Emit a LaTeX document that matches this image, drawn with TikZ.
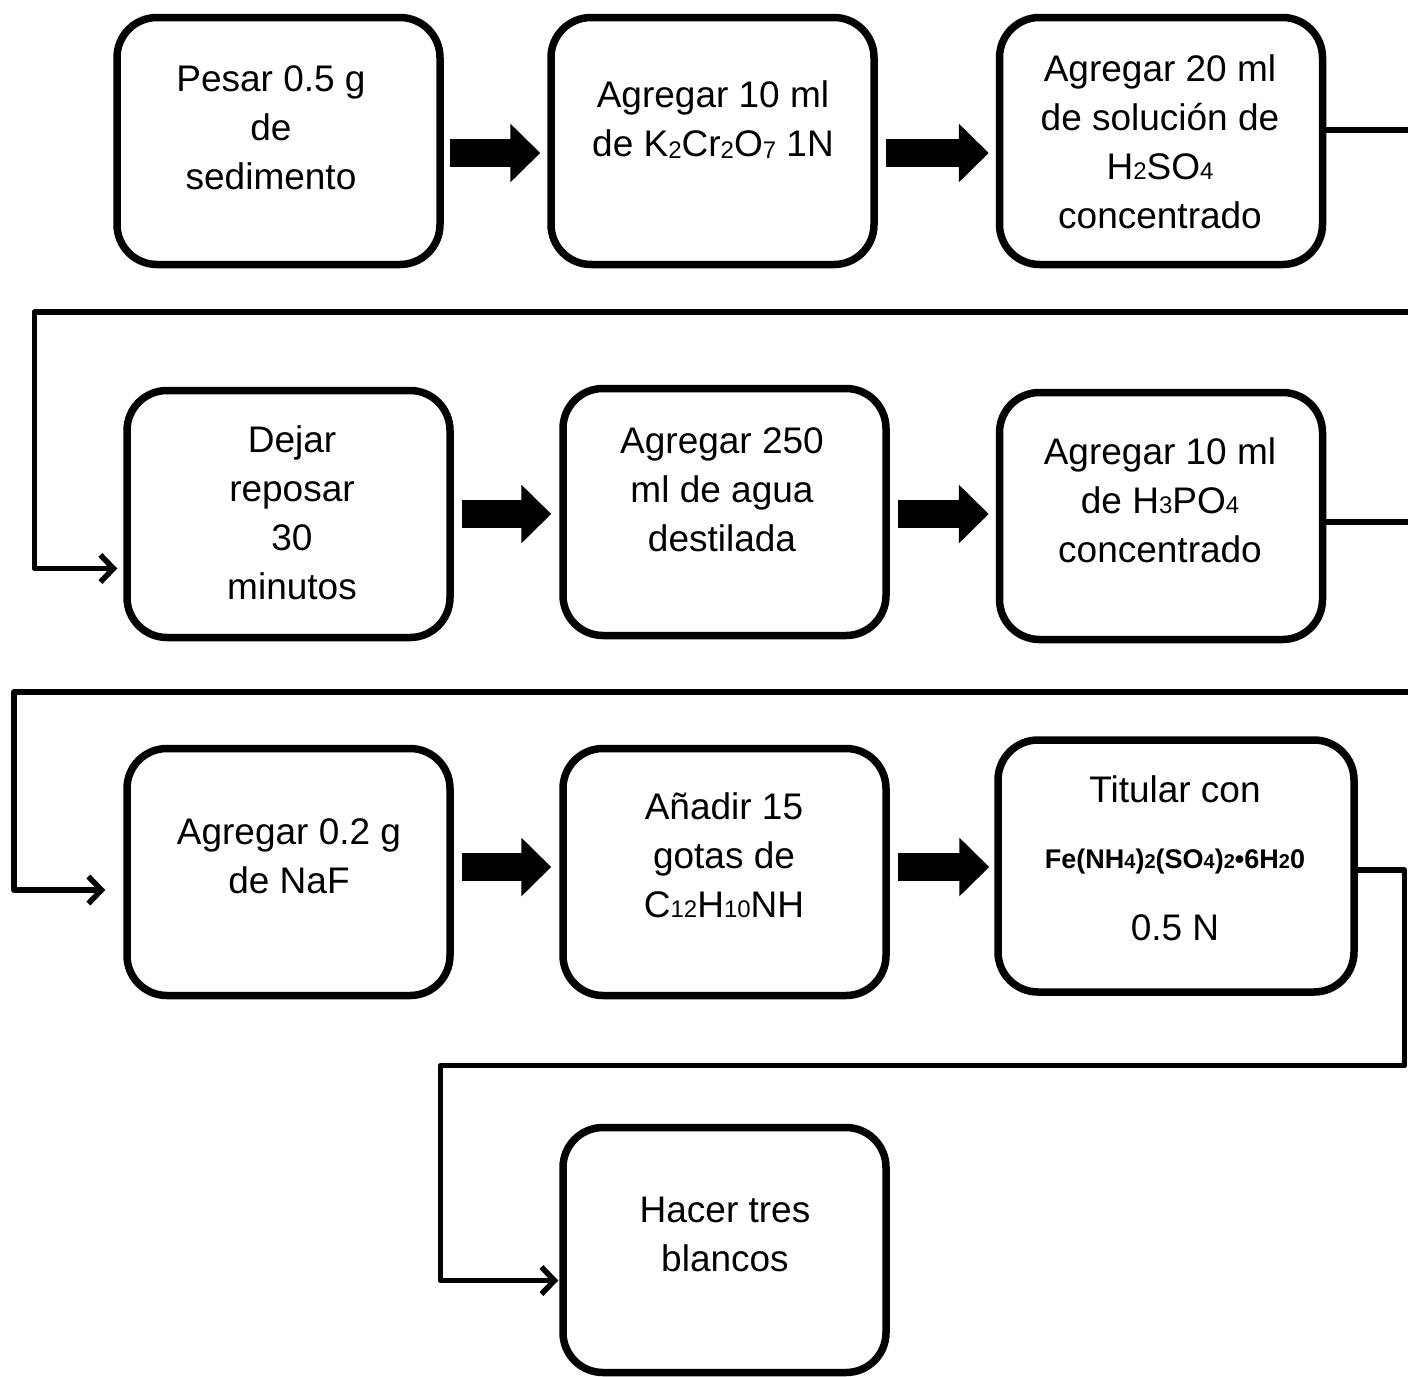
\documentclass[tikz,border=0pt]{standalone}
\usepackage{fontspec}
\setmainfont{Liberation Sans}
\usetikzlibrary{arrows.meta,calc}
\newcommand\sbd[1]{{\fontsize{24}{24}\selectfont #1}}
\newcommand\sbl[1]{\raisebox{-2pt}{\fontsize{24}{24}\selectfont #1}}
\newcommand\sbb[1]{{\fontsize{20}{20}\selectfont\bfseries #1}}
\newcommand\boxlines[4]{%
  \foreach \l [count=\i from 0] in {#4} {\node[txt] (#1-\i) at (#2, #3+49.3*\i) {\l};}}
\begin{document}
\begin{tikzpicture}[x=1pt,y=-1pt,
  box/.style={draw, line width=7.5pt, rounded corners=40pt, minimum width=323pt, minimum height=247pt, inner sep=0pt},
  txt/.style={anchor=base, inner sep=0pt, font=\fontsize{37}{44}\selectfont},
  conn/.style={line width=5.5pt, line join=round, -{Straight Barb[length=13pt,width=27pt]}},
  blockarrow/.style={line width=28pt, -{Triangle[length=30pt,width=57pt]}}]
\useasboundingbox[fill=white] (0,0) rectangle (1408,1376);

% boxes
\node[box] (b1) at (278.5,141) {};
\node[box] (b2) at (712.5,141) {};
\node[box] (b3) at (1161,141) {};
\node[box] (b4) at (288.5,514) {};
\node[box] (b5) at (724.5,512) {};
\node[box] (b6) at (1161,516) {};
\node[box] (b7) at (288.5,872) {};
\node[box] (b8) at (724.5,872) {};
\node[box, minimum width=356pt, minimum height=252pt] (b9) at (1176,866) {};
\node[box, minimum height=245pt] (b10) at (724.5,1250) {};

% texts
\boxlines{t1}{271}{91}{Pesar 0.5 g, de, sedimento}
\boxlines{t2}{713}{107}{Agregar 10 ml, de K\sbl{2}Cr\sbl{2}O\sbl{7} 1N}
\boxlines{t3}{1160}{81}{Agregar 20 ml, de solución de, H\sbd{2}SO\sbd{4}, concentrado}
\boxlines{t4}{292}{452}{Dejar, reposar, 30, minutos}
\boxlines{t5}{722}{453}{Agregar 250, ml de agua, destilada}
\boxlines{t6}{1160}{464}{Agregar 10 ml, de H\sbd{3}PO\sbd{4}, concentrado}
\boxlines{t7}{289}{844}{Agregar 0.2 g, de NaF}
\boxlines{t8}{724}{819}{Añadir 15, gotas de, C\sbd{12}H\sbd{10}NH}
\node[txt] (t9-0) at (1175,802) {Titular con};
\node[txt, font=\fontsize{27}{30}\selectfont\bfseries] (t9-1) at (1175,868)
  {Fe(NH\sbb{4})\sbb{2}(SO\sbb{4})\sbb{2}•6H\sbb{2}0};
\node[txt] (t9-2) at (1175,940) {0.5 N};
\boxlines{t10}{725}{1222}{Hacer tres, blancos}

% block arrows
\coordinate (r1) at (0,153);
\coordinate (r2) at (0,514);
\coordinate (r3) at (0,867);
\draw[blockarrow] ([xshift=6pt]b1.east |- r1) -- ([xshift=-7pt]b2.west |- r1);
\draw[blockarrow] ([xshift=8pt]b2.east |- r1) -- ([xshift=-7pt]b3.west |- r1);
\draw[blockarrow] ([xshift=8pt]b4.east |- r2) -- ([xshift=-8pt]b5.west |- r2);
\draw[blockarrow] ([xshift=8pt]b5.east |- r2) -- ([xshift=-7pt]b6.west |- r2);
\draw[blockarrow] ([xshift=8pt]b7.east |- r3) -- ([xshift=-8pt]b8.west |- r3);
\draw[blockarrow] ([xshift=8pt]b8.east |- r3) -- ([xshift=-5pt]b9.west |- r3);

% connectors
\coordinate (k1a) at (1411,130);
\coordinate (k1b) at (34.5,312);
\coordinate (k1c) at (0,568.5);
\draw[conn, shorten >=6pt] (b3.east |- k1a) -- (k1a) |- (k1b) |- (b4.west |- k1c);
\coordinate (k2a) at (1411,522);
\coordinate (k2b) at (14,692);
\coordinate (k2c) at (0,890);
\draw[conn, shorten >=18pt] (b6.east |- k2a) -- (k2a) |- (k2b) |- (b7.west |- k2c);
\coordinate (k3a) at (1404.5,870);
\coordinate (k3b) at (440.5,1065.5);
\coordinate (k3c) at (0,1280.5);
\draw[conn, shorten >=1pt] (b9.east |- k3a) -- (k3a) |- (k3b) |- (b10.west |- k3c);
\end{tikzpicture}
\end{document}
